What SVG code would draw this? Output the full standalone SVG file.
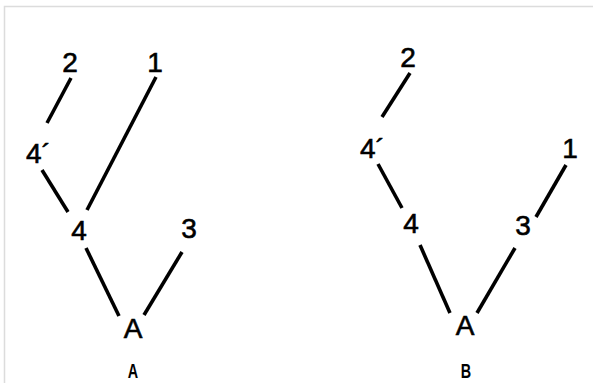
<svg xmlns="http://www.w3.org/2000/svg" width="593" height="383" viewBox="0 0 593 383">
<style>
.lbl{font-family:"Liberation Sans",Arial,sans-serif;font-size:28px;fill:#000;stroke:#000;stroke-width:0.6;text-anchor:middle}
.cap{font-family:"Liberation Sans",Arial,sans-serif;font-size:20px;font-weight:bold;fill:#000;text-anchor:middle}
.e{stroke:#000;stroke-width:3.6;stroke-linecap:butt;fill:none}
</style>
<rect width="593" height="383" fill="#fff"/>
<path d="M4.5,383 V6.5 H593" fill="none" stroke="#dcdcdc" stroke-width="1.5"/>
<g id="connectors">
<line class="e" x1="71" y1="78" x2="47" y2="123"/>
<line class="e" x1="42" y1="170" x2="68" y2="212"/>
<line class="e" x1="156" y1="77" x2="87" y2="210"/>
<line class="e" x1="86" y1="248" x2="119" y2="316"/>
<line class="e" x1="182" y1="252" x2="144" y2="315"/>
<line class="e" x1="410" y1="73" x2="382" y2="117"/>
<line class="e" x1="378" y1="164" x2="402" y2="208"/>
<line class="e" x1="420" y1="245" x2="450" y2="313"/>
<line class="e" x1="566" y1="165" x2="536" y2="217"/>
<line class="e" x1="515" y1="248" x2="477" y2="313"/>
</g>
<g id="a-2"><text class="lbl" x="70" y="72">2</text></g>
<g id="a-1"><text class="lbl" x="155" y="72">1</text></g>
<g id="a-4p"><text class="lbl" x="26" y="163" style="text-anchor:start">4´</text></g>
<g id="a-4"><text class="lbl" x="79" y="240">4</text></g>
<g id="a-3"><text class="lbl" x="189" y="238">3</text></g>
<g id="a-A"><text class="lbl" x="133" y="338">A</text></g>
<g id="cap-A"><text class="cap" x="133" y="378" transform="translate(133,0) scale(0.72,1) translate(-133,0)">A</text></g>
<g id="b-2"><text class="lbl" x="408" y="67">2</text></g>
<g id="b-4p"><text class="lbl" x="360" y="158" style="text-anchor:start">4´</text></g>
<g id="b-4"><text class="lbl" x="411" y="233">4</text></g>
<g id="b-1"><text class="lbl" x="570" y="158">1</text></g>
<g id="b-3"><text class="lbl" x="523" y="235">3</text></g>
<g id="b-A"><text class="lbl" x="465" y="335">A</text></g>
<g id="cap-B"><text class="cap" x="466" y="378" transform="translate(466,0) scale(0.72,1) translate(-466,0)">B</text></g>
</svg>
